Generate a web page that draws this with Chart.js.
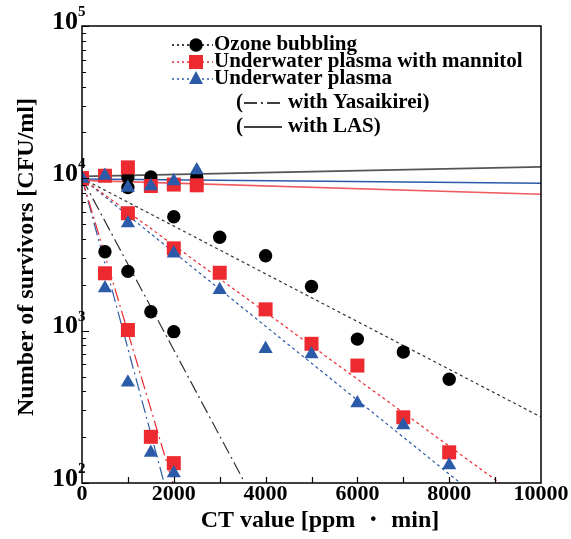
<!DOCTYPE html>
<html>
<head>
<meta charset="utf-8">
<script src="https://cdn.jsdelivr.net/npm/chart.js@4.4.1/dist/chart.umd.min.js"></script>
<style>
html, body { margin: 0; padding: 0; background: #fff; }
</style>
</head>
<body>
<canvas id="chart" width="571" height="539"></canvas>
<script>
// measured points (CT value, survivors)
const ozoneX = [0, 1000, 2000, 3000, 4000, 5000, 6000, 7000, 8000];
const ozoneY = [10000, 8700, 5600, 4100, 3100, 1950, 880, 725, 480];
const ozoneYasX = [0, 500, 1000, 1500, 2000];
const ozoneYasY = [10000, 3300, 2450, 1330, 985];
const ozoneLasX = [0, 1000, 1500, 2500];
const ozoneLasY = [10000, 10200, 10200, 10200];

const manX = [0, 1000, 2000, 3000, 4000, 5000, 6000, 7000, 8000];
const manY = [10000, 5900, 3470, 2400, 1380, 820, 590, 270, 159];
const manYasX = [0, 500, 1000, 1500, 2000];
const manYasY = [10000, 2380, 1010, 201, 135];
const manLasX = [0, 500, 1000, 1500, 2000, 2500];
const manLasY = [10000, 10400, 11800, 8900, 9100, 9000];

const plasmaX = [0, 1000, 2000, 3000, 4000, 5000, 6000, 7000, 8000];
const plasmaY = [10000, 5070, 3220, 1850, 760, 700, 334, 240, 131];
const plasmaYasX = [0, 500, 1000, 1500, 2000];
const plasmaYasY = [10000, 1900, 458, 158, 116];
const plasmaLasX = [0, 500, 1000, 1500, 2000, 2500];
const plasmaLasY = [10000, 10400, 8700, 8900, 9600, 11300];

// fitted lines (end points)
const ozoneFitX = [0, 10000], ozoneFitY = [10000, 271];
const ozoneYasFitX = [0, 3550], ozoneYasFitY = [10000, 100];
const ozoneLasFitX = [0, 10000], ozoneLasFitY = [10300, 11900];
const manFitX = [0, 9100], manFitY = [10000, 100];
const manYasFitX = [0, 1980], manYasFitY = [10000, 100];
const manLasFitX = [0, 10000], manLasFitY = [9700, 7870];
const plasmaFitX = [0, 8240], plasmaFitY = [10000, 100];
const plasmaYasFitX = [0, 1790], plasmaYasFitY = [10000, 100];
const plasmaLasFitX = [0, 10000], plasmaLasFitY = [9900, 9290];

// axis labels
const xTickValues = [0, 2000, 4000, 6000, 8000, 10000];
const yTickValues = [100, 1000, 10000, 100000];
const yTickExps = ['2', '3', '4', '5'];

const BLACK = '#000000';
const RED = '#ec2a30';
const BLUE = '#2b5ba8';
const SERIF = '"Liberation Serif", "Times New Roman", serif';

function pts(xs, ys) {
    return xs.map((x, i) => ({ x: x, y: ys[i] }));
}

function markers(xs, ys, color, style, radius, order) {
    return {
        data: pts(xs, ys),
        showLine: false,
        pointStyle: style,
        pointRadius: radius,
        pointBackgroundColor: color,
        pointBorderColor: color,
        pointBorderWidth: 0,
        order: order
    };
}

function fitLine(xs, ys, color, dash, width) {
    return {
        data: pts(xs, ys),
        showLine: true,
        pointRadius: 0,
        borderColor: color,
        borderWidth: width,
        borderDash: dash,
        order: 5
    };
}

const DOT = [3, 3];
const DASHDOT = [13, 4, 2, 4];

const datasets = [
    fitLine(ozoneFitX, ozoneFitY, '#333', DOT, 1.2),
    fitLine(ozoneYasFitX, ozoneYasFitY, '#333', DASHDOT, 1.2),
    fitLine(ozoneLasFitX, ozoneLasFitY, '#555', [], 1.6),
    fitLine(manFitX, manFitY, RED, DOT, 1.2),
    fitLine(manYasFitX, manYasFitY, RED, DASHDOT, 1.2),
    fitLine(manLasFitX, manLasFitY, '#ee5a5f', [], 1.6),
    fitLine(plasmaFitX, plasmaFitY, BLUE, DOT, 1.2),
    fitLine(plasmaYasFitX, plasmaYasFitY, BLUE, DASHDOT, 1.2),
    fitLine(plasmaLasFitX, plasmaLasFitY, BLUE, [], 1.6),

    markers(ozoneX, ozoneY, BLACK, 'circle', 6.7, 3),
    markers(ozoneYasX, ozoneYasY, BLACK, 'circle', 6.7, 3),
    markers(ozoneLasX, ozoneLasY, BLACK, 'circle', 6.7, 3),
    markers(manX, manY, RED, 'rect', 9.9, 2),
    markers(manYasX, manYasY, RED, 'rect', 9.9, 2),
    markers(manLasX, manLasY, RED, 'rect', 9.9, 2),
    markers(plasmaX, plasmaY, BLUE, 'triangle', 8.2, 1),
    markers(plasmaYasX, plasmaYasY, BLUE, 'triangle', 8.2, 1),
    markers(plasmaLasX, plasmaLasY, BLUE, 'triangle', 8.2, 1)
];

// frame, inward ticks, tick labels, titles and legend
const decorPlugin = {
    id: 'decor',
    afterDraw(chart) {
        const ctx = chart.ctx;
        const a = chart.chartArea;
        const xs = chart.scales.x;
        const ys = chart.scales.y;
        ctx.save();

        // frame
        ctx.strokeStyle = '#000';
        ctx.lineWidth = 1.5;
        ctx.strokeRect(a.left, a.top, a.right - a.left, a.bottom - a.top);

        // x ticks every 1000, pointing up
        ctx.lineWidth = 1.2;
        ctx.beginPath();
        for (let v = 1000; v < 10000; v += 1000) {
            const px = Math.round(xs.getPixelForValue(v)) + 0.5;
            ctx.moveTo(px, a.bottom);
            ctx.lineTo(px, a.bottom - 6);
        }
        // y ticks, major + minor, pointing right
        for (let d = 100; d <= 100000; d *= 10) {
            for (let m = 1; m <= 9; m++) {
                const v = d * m;
                if (v > 100000) break;
                const py = Math.round(ys.getPixelForValue(v)) + 0.5;
                const len = m === 1 ? 7 : 4;
                ctx.moveTo(a.left, py);
                ctx.lineTo(a.left + len, py);
            }
        }
        ctx.stroke();

        // x tick labels
        ctx.fillStyle = '#000';
        ctx.font = 'bold 22px ' + SERIF;
        ctx.textAlign = 'center';
        ctx.textBaseline = 'middle';
        xTickValues.forEach(v => {
            ctx.fillText(String(v), xs.getPixelForValue(v), a.bottom + 11);
        });

        // y tick labels 10^n
        yTickValues.forEach((v, i) => {
            const py = ys.getPixelForValue(v) - 4;
            ctx.font = 'bold 26px ' + SERIF;
            ctx.textAlign = 'right';
            ctx.fillText('10', 78, py);
            ctx.font = 'bold 15px ' + SERIF;
            ctx.textAlign = 'left';
            ctx.fillText(yTickExps[i], 78, py - 10);
        });

        // axis titles
        ctx.font = 'bold 24px ' + SERIF;
        ctx.textAlign = 'center';
        ctx.fillText('CT value [ppm ・ min]', 320, 521);
        ctx.save();
        ctx.translate(27, 257);
        ctx.rotate(-Math.PI / 2);
        ctx.fillText('Number of survivors [CFU/ml]', 0, 0);
        ctx.restore();

        // legend
        const rows = [
            { y: 45, color: BLACK, style: 'circle', text: 'Ozone bubbling' },
            { y: 62, color: RED, style: 'rect', text: 'Underwater plasma with mannitol' },
            { y: 79, color: BLUE, style: 'triangle', text: 'Underwater plasma' }
        ];
        ctx.textAlign = 'left';
        ctx.font = 'bold 21px ' + SERIF;
        rows.forEach(r => {
            ctx.strokeStyle = r.color;
            ctx.lineWidth = 1.5;
            ctx.setLineDash([2, 3]);
            ctx.beginPath();
            ctx.moveTo(172, r.y);
            ctx.lineTo(213, r.y);
            ctx.stroke();
            ctx.setLineDash([]);
            ctx.fillStyle = r.color;
            ctx.beginPath();
            if (r.style === 'circle') {
                ctx.arc(196, r.y, 6.7, 0, Math.PI * 2);
            } else if (r.style === 'rect') {
                ctx.rect(189, r.y - 7, 14, 14);
            } else {
                ctx.moveTo(196, r.y - 8);
                ctx.lineTo(203, r.y + 5);
                ctx.lineTo(189, r.y + 5);
                ctx.closePath();
            }
            ctx.fill();
            ctx.fillStyle = '#000';
            ctx.fillText(r.text, 214, r.y);
        });

        ctx.fillText('(', 236, 103);
        ctx.strokeStyle = '#000';
        ctx.lineWidth = 1.3;
        ctx.setLineDash([13, 4, 2, 4]);
        ctx.beginPath();
        ctx.moveTo(244, 103);
        ctx.lineTo(283, 103);
        ctx.stroke();
        ctx.setLineDash([]);
        ctx.fillText('with Yasaikirei)', 288, 103);

        ctx.fillText('(', 236, 127);
        ctx.beginPath();
        ctx.moveTo(244, 127);
        ctx.lineTo(282, 127);
        ctx.stroke();
        ctx.fillText('with LAS)', 288, 127);

        ctx.restore();
    }
};

new Chart(document.getElementById('chart'), {
    type: 'scatter',
    data: { datasets: datasets },
    options: {
        responsive: false,
        animation: false,
        devicePixelRatio: 1,
        layout: { padding: { left: 82, top: 26, right: 30, bottom: 56 } },
        plugins: {
            legend: { display: false },
            tooltip: { enabled: false }
        },
        scales: {
            x: {
                type: 'linear',
                min: 0,
                max: 10000,
                ticks: { display: false },
                grid: { display: false, drawTicks: false },
                border: { display: false }
            },
            y: {
                type: 'logarithmic',
                min: 100,
                max: 100000,
                ticks: { display: false },
                grid: { display: false, drawTicks: false },
                border: { display: false }
            }
        }
    },
    plugins: [decorPlugin]
});
</script>
</body>
</html>
